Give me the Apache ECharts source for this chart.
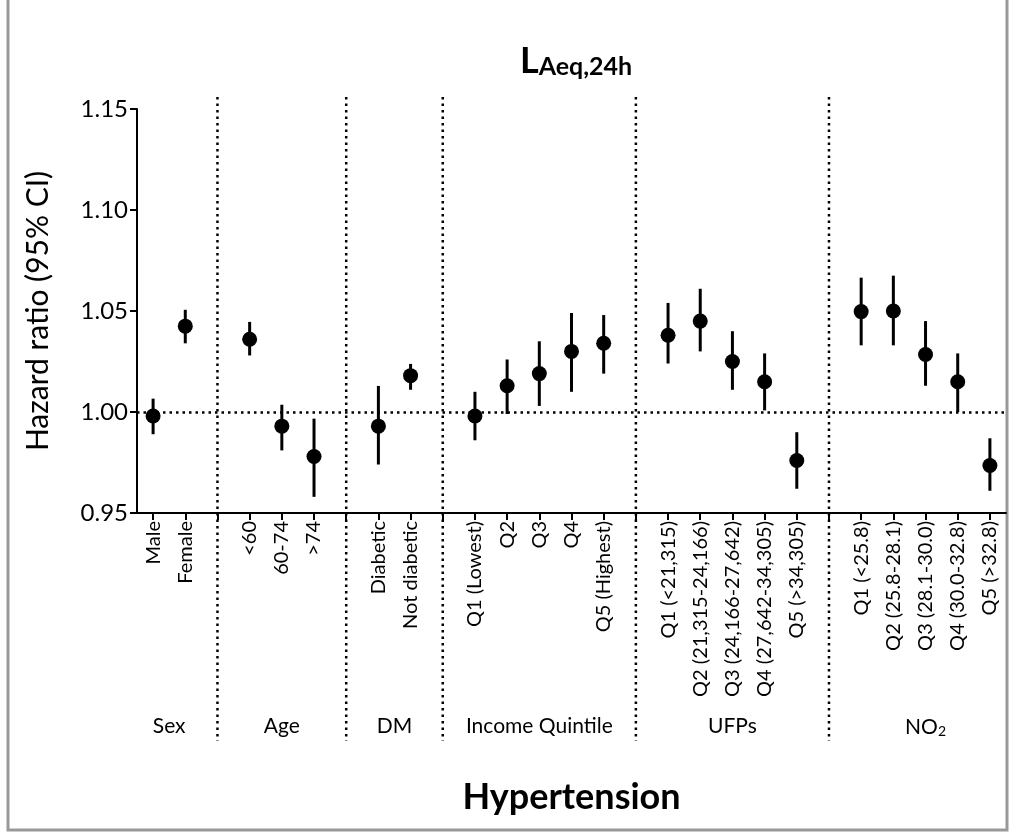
<!DOCTYPE html>
<html>
<head>
<meta charset="utf-8">
<script src="https://cdn.jsdelivr.net/npm/echarts@6/dist/echarts.min.js"></script>
<style>
html,body{margin:0;padding:0;background:#fff;}
#chart{width:1014px;height:833px;}
</style>
</head>
<body>
<div id="chart"></div>
<script>
// categories ('' = spacer slot holding a group separator)
const categories = ['Male','Female','',
  '<60','60-74','>74','',
  'Diabetic','Not diabetic','',
  'Q1 (Lowest)','Q2','Q3','Q4','Q5 (Highest)','',
  'Q1 (<21,315)','Q2 (21,315-24,166)','Q3 (24,166-27,642)','Q4 (27,642-34,305)','Q5 (>34,305)','',
  'Q1 (<25.8)','Q2 (25.8-28.1)','Q3 (28.1-30.0)','Q4 (30.0-32.8)','Q5 (>32.8)'];
const hr    = [0.998,1.0425,null, 1.036,0.993,0.978,null, 0.993,1.018,null, 0.998,1.013,1.019,1.030,1.034,null, 1.038,1.045,1.025,1.015,0.976,null, 1.0497,1.050,1.0285,1.015,0.9735];
const ciLow = [0.989,1.034,null, 1.028,0.981,0.958,null, 0.974,1.011,null, 0.986,0.999,1.003,1.010,1.019,null, 1.024,1.030,1.011,1.0008,0.962,null, 1.033,1.033,1.013,1.000,0.961];
const ciHigh= [1.0066,1.0506,null, 1.0446,1.0036,0.9967,null, 1.0129,1.0238,null, 1.010,1.026,1.035,1.049,1.048,null, 1.054,1.061,1.040,1.029,0.990,null, 1.0665,1.0675,1.045,1.029,0.987];
const yTicks = [0.95, 1.00, 1.05, 1.10, 1.15];
const separators = [2, 6, 9, 15, 21];
const groups = [
  {name:'Sex', from:0, to:1},
  {name:'Age', from:3, to:5},
  {name:'DM', from:7, to:8},
  {name:'Income Quintile', from:10, to:14},
  {name:'UFPs', from:16, to:20},
  {name:'NO2', from:22, to:26}
];

const FONT = 'Lato';
const chart = echarts.init(document.getElementById('chart'));

const pointData = [];
const barData = [];
categories.forEach((c, i) => {
  if (hr[i] != null) {
    pointData.push([i, hr[i]]);
    barData.push([i, ciLow[i], ciHigh[i]]);
  }
});

const option = {
  animation: false,
  backgroundColor: '#fff',
  grid: {left: 137, right: 8, top: 109, bottom: 320, containLabel: false},
  title: {
    text: '{L|L}{s|Aeq,24h}',
    left: 515, top: 20,
    textStyle: {
      rich: {
        L: {fontFamily: FONT, fontWeight: 'bold', fontSize: 36, color: '#000', verticalAlign: 'bottom', lineHeight: 42},
        s: {fontFamily: FONT, fontWeight: 'bold', fontSize: 25, color: '#000', verticalAlign: 'bottom', lineHeight: 54}
      }
    }
  },
  xAxis: {
    type: 'category',
    data: categories,
    boundaryGap: true,
    axisLine: {lineStyle: {color: '#000', width: 2}},
    axisTick: {show: true, interval: 0, alignWithLabel: true, length: 7, lineStyle: {color: '#000', width: 2}},
    axisLabel: {interval: 0, rotate: 90, fontFamily: FONT, fontSize: 20, color: '#000', margin: 8},
    splitLine: {show: false}
  },
  yAxis: {
    type: 'value',
    min: yTicks[0], max: yTicks[yTicks.length - 1], interval: 0.05,
    name: 'Hazard ratio (95% CI)',
    nameLocation: 'middle',
    nameGap: 84,
    nameTextStyle: {fontFamily: FONT, fontSize: 30, color: '#000'},
    axisLine: {show: true, lineStyle: {color: '#000', width: 2}},
    axisTick: {show: true, length: 7, lineStyle: {color: '#000', width: 2}},
    axisLabel: {fontFamily: FONT, fontSize: 24, color: '#000', margin: 9, formatter: v => v.toFixed(2)},
    splitLine: {show: false}
  },
  series: [
    {
      type: 'custom',
      data: barData,
      renderItem: function (params, api) {
        const p1 = api.coord([api.value(0), api.value(1)]);
        const p2 = api.coord([api.value(0), api.value(2)]);
        return {type: 'line', shape: {x1: p1[0], y1: p1[1], x2: p2[0], y2: p2[1]}, style: {stroke: '#000', lineWidth: 3}};
      },
      markLine: {
        silent: true, symbol: 'none', label: {show: false},
        lineStyle: {color: '#000', width: 2.5, type: [2.5, 4]},
        data: [{yAxis: 1.0}]
      },
      z: 3
    },
    {
      type: 'scatter',
      data: pointData,
      symbol: 'circle',
      symbolSize: 15,
      itemStyle: {color: '#000', opacity: 1},
      z: 4
    }
  ]
};
chart.setOption(option);

function drawExtras() {
  const px = i => chart.convertToPixel({xAxisIndex: 0}, i);
  const yTop = chart.convertToPixel({yAxisIndex: 0}, yTicks[yTicks.length - 1]) - 12;
  const yBot = chart.convertToPixel({yAxisIndex: 0}, yTicks[0]) + 228;
  const els = [];
  separators.forEach(s => {
    const x = px(s);
    els.push({type: 'line', shape: {x1: x, y1: yTop, x2: x, y2: yBot},
      style: {stroke: '#000', lineWidth: 2.5, lineDash: [2.5, 4]}, z: 1});
  });
  const labelY = chart.convertToPixel({yAxisIndex: 0}, yTicks[0]) + 213;
  groups.forEach(g => {
    const x = (px(g.from) + px(g.to)) / 2;
    const isNO2 = g.name === 'NO2';
    els.push({
      type: 'text', x: x, y: labelY,
      style: {
        text: isNO2 ? '{a|NO}{b|2}' : g.name,
        rich: isNO2 ? {a: {fontFamily: FONT, fontSize: 21, fill: '#000', verticalAlign: 'bottom', lineHeight: 24},
                       b: {fontFamily: FONT, fontSize: 14, fill: '#000', verticalAlign: 'bottom', lineHeight: 16}} : undefined,
        font: '21px ' + FONT, fill: '#000', align: 'center', verticalAlign: 'middle'
      }
    });
  });
  const cx = (px(0) + px(categories.length - 1)) / 2;
  els.push({type: 'text', x: cx, y: 797,
    style: {text: 'Hypertension', font: 'bold 36px ' + FONT, fill: '#000', align: 'center', verticalAlign: 'middle'}});
  els.push({type: 'rect', shape: {x: 8, y: -4, width: 999, height: 834},
    style: {fill: 'none', stroke: '#999', lineWidth: 3}, z: 0});
  chart.setOption({graphic: els});
}
drawExtras();
</script>
</body>
</html>
